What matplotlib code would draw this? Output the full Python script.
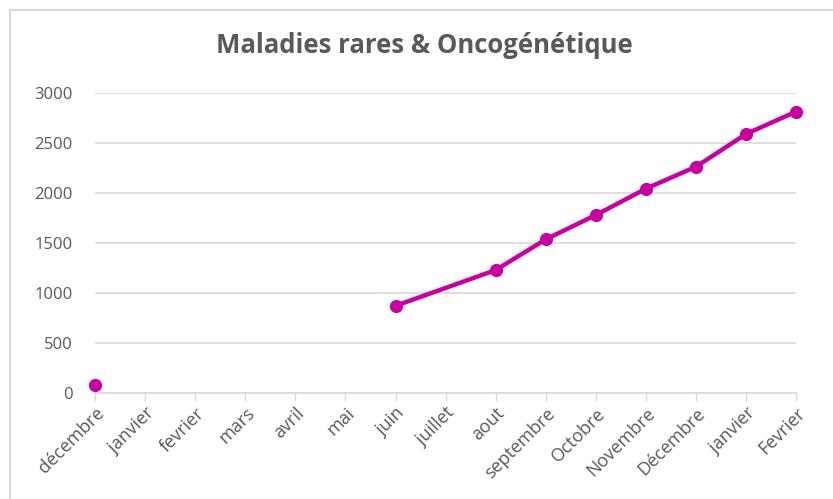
import numpy as np
import matplotlib
matplotlib.use('Agg')
import matplotlib.pyplot as plt
from matplotlib.patches import Rectangle

months = ['décembre', 'janvier', 'fevrier', 'mars', 'avril', 'mai', 'juin', 'juillet',
          'aout', 'septembre', 'Octobre', 'Novembre', 'Décembre', 'janvier', 'Fevrier']
values = [87, None, None, None, None, None, 873, None,
          1230, 1537, 1780, 2043, 2263, 2590, 2813]

color = '#C8009F'
grey = '#595959'

plt.rcParams['font.family'] = ['Open Sans', 'DejaVu Sans']

fig = plt.figure(figsize=(8.33, 4.99), dpi=100)
ax = fig.add_axes([0.114, 0.212, 0.842, 0.602])

x = np.arange(len(months))
y = np.array([np.nan if v is None else v for v in values], dtype=float)

# line from juin onwards, skipping the empty month
seg = [(i, v) for i, v in enumerate(values) if v is not None and i >= 6]
ax.plot([p[0] for p in seg], [p[1] for p in seg], color=color, lw=3.2,
        solid_capstyle='round', zorder=3)
ax.plot(x, y, 'o', color=color, ms=8.5, zorder=4, clip_on=False)

ax.set_xlim(0, len(months) - 1)
ax.set_ylim(0, 3000)
ax.set_yticks(range(0, 3001, 500))
ax.set_xticks(x)
ax.set_xticklabels(months, rotation=45, ha='right', rotation_mode='anchor',
                   fontsize=13, color=grey)
ax.tick_params(axis='y', length=0, labelsize=12, labelcolor=grey, pad=16)
ax.tick_params(axis='x', length=6, color='#D9D9D9', width=1, pad=2)
for lbl in ax.get_xticklabels():
    lbl.set_x(lbl.get_position()[0])
ax.grid(axis='y', color='#D9D9D9', lw=1.2)
ax.set_axisbelow(True)
for s in ['top', 'right', 'left']:
    ax.spines[s].set_visible(False)
ax.spines['bottom'].set_color('#D9D9D9')
ax.spines['bottom'].set_linewidth(1.2)

fig.text(0.51, 0.908, 'Maladies rares & Oncogénétique', ha='center', va='center',
         fontsize=18.5, fontweight='bold', color=grey)

fig.patches.append(Rectangle((0.012, -0.01), 1.0, 0.99, transform=fig.transFigure,
                             fill=False, edgecolor='#D9D9D9', lw=1.5))

fig.savefig('out.png', dpi=100)
